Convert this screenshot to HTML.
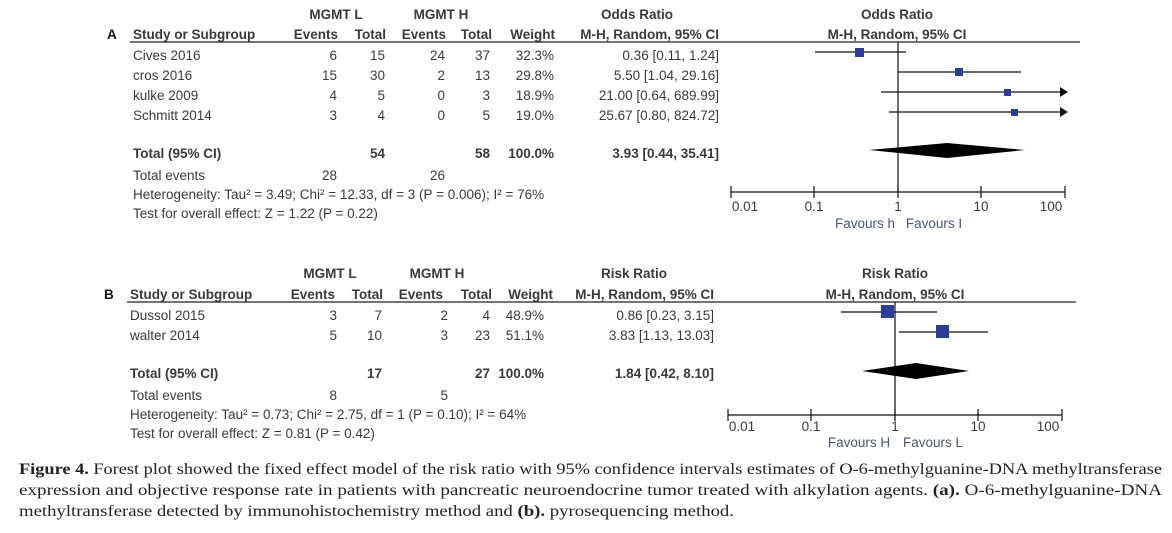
<!DOCTYPE html>
<html><head><meta charset="utf-8"><style>
html,body{margin:0;padding:0;background:#fff;}
svg{display:block;}
.t{font-family:"Liberation Sans",Arial,sans-serif;font-size:13.5px;fill:#3a3a3a;}
.b{font-weight:bold;}
.c{font-family:"Liberation Serif",serif;font-size:15.5px;fill:#222;}
.f{fill:#4a5570;white-space:pre;}
</style></head><body>
<svg width="1172" height="533" viewBox="0 0 1172 533" xmlns="http://www.w3.org/2000/svg">
<!-- PANEL A -->
<g class="t">
<text x="336" y="19" text-anchor="middle" class="b">MGMT L</text>
<text x="441" y="19" text-anchor="middle" class="b">MGMT H</text>
<text x="637" y="19" text-anchor="middle" class="b">Odds Ratio</text>
<text x="897" y="19" text-anchor="middle" class="b">Odds Ratio</text>
<text x="107" y="39" class="b" fill="#111">A</text>
<text x="133" y="39" class="b">Study or Subgroup</text>
<text x="338" y="39" text-anchor="end" class="b">Events</text>
<text x="386" y="39" text-anchor="end" class="b">Total</text>
<text x="446" y="39" text-anchor="end" class="b">Events</text>
<text x="492" y="39" text-anchor="end" class="b">Total</text>
<text x="555" y="39" text-anchor="end" class="b">Weight</text>
<text x="719" y="39" text-anchor="end" class="b">M-H, Random, 95% CI</text>
<text x="897" y="39" text-anchor="middle" class="b">M-H, Random, 95% CI</text>
</g>
<line x1="130" y1="42" x2="1080" y2="42" stroke="#222" stroke-width="1.2"/>
<g class="t">
<text x="133" y="60">Cives 2016</text>
<text x="133" y="80">cros 2016</text>
<text x="133" y="100">kulke 2009</text>
<text x="133" y="120">Schmitt 2014</text>
<g text-anchor="end">
<text x="337" y="60">6</text><text x="385" y="60">15</text><text x="445" y="60">24</text><text x="490" y="60">37</text><text x="554" y="60">32.3%</text><text x="719" y="60">0.36 [0.11, 1.24]</text>
<text x="337" y="80">15</text><text x="385" y="80">30</text><text x="445" y="80">2</text><text x="490" y="80">13</text><text x="554" y="80">29.8%</text><text x="719" y="80">5.50 [1.04, 29.16]</text>
<text x="337" y="100">4</text><text x="385" y="100">5</text><text x="445" y="100">0</text><text x="490" y="100">3</text><text x="554" y="100">18.9%</text><text x="719" y="100">21.00 [0.64, 689.99]</text>
<text x="337" y="120">3</text><text x="385" y="120">4</text><text x="445" y="120">0</text><text x="490" y="120">5</text><text x="554" y="120">19.0%</text><text x="719" y="120">25.67 [0.80, 824.72]</text>
<text x="385" y="158" class="b">54</text><text x="490" y="158" class="b">58</text><text x="554" y="158" class="b">100.0%</text><text x="719" y="158" class="b">3.93 [0.44, 35.41]</text>
<text x="337" y="180">28</text><text x="445" y="180">26</text>
</g>
<text x="133" y="158" class="b">Total (95% CI)</text>
<text x="133" y="180">Total events</text>
<text x="133" y="199">Heterogeneity: Tau² = 3.49; Chi² = 12.33, df = 3 (P = 0.006); I² = 76%</text>
<text x="133" y="218">Test for overall effect: Z = 1.22 (P = 0.22)</text>
</g>
<!-- plot A -->
<g stroke="#111" stroke-width="1.2">
<line x1="898" y1="42" x2="898" y2="192"/>
<line x1="731" y1="192" x2="1065" y2="192"/>
<line x1="731" y1="186" x2="731" y2="198"/><line x1="814" y1="186" x2="814" y2="198"/><line x1="898" y1="186" x2="898" y2="198"/><line x1="981" y1="186" x2="981" y2="198"/><line x1="1065" y1="186" x2="1065" y2="198"/>
<line x1="815" y1="52" x2="906" y2="52"/>
<line x1="898" y1="72" x2="1021" y2="72"/>
<line x1="881" y1="92" x2="1063" y2="92"/>
<line x1="889" y1="112" x2="1063" y2="112"/>
</g>
<polygon points="1060,87 1068,92 1060,97" fill="#111"/>
<polygon points="1060,107 1068,112 1060,117" fill="#111"/>
<rect x="855" y="48" width="9" height="9" fill="#2d3b9a"/>
<rect x="955" y="68" width="8" height="8" fill="#2d3b9a"/>
<rect x="1004" y="89" width="7" height="7" fill="#2d3b9a"/>
<rect x="1011" y="109" width="7" height="7" fill="#2d3b9a"/>
<polygon points="869,150 947,143 1025,150 947,158" fill="#000"/>
<g class="t" text-anchor="middle">
<text x="745" y="211">0.01</text><text x="814" y="211">0.1</text><text x="898" y="211">1</text><text x="981" y="211">10</text><text x="1051" y="211">100</text>
<text x="865" y="228" class="f">Favours h</text><text x="934" y="228" class="f">Favours I</text>
</g>

<!-- PANEL B -->
<g class="t">
<text x="330" y="278" text-anchor="middle" class="b">MGMT L</text>
<text x="437" y="278" text-anchor="middle" class="b">MGMT H</text>
<text x="634" y="278" text-anchor="middle" class="b">Risk Ratio</text>
<text x="895" y="278" text-anchor="middle" class="b">Risk Ratio</text>
<text x="104" y="299" class="b" fill="#111">B</text>
<text x="130" y="299" class="b">Study or Subgroup</text>
<text x="335" y="299" text-anchor="end" class="b">Events</text>
<text x="383" y="299" text-anchor="end" class="b">Total</text>
<text x="443" y="299" text-anchor="end" class="b">Events</text>
<text x="492" y="299" text-anchor="end" class="b">Total</text>
<text x="553" y="299" text-anchor="end" class="b">Weight</text>
<text x="714" y="299" text-anchor="end" class="b">M-H, Random, 95% CI</text>
<text x="895" y="299" text-anchor="middle" class="b">M-H, Random, 95% CI</text>
</g>
<line x1="127" y1="302" x2="1076" y2="302" stroke="#222" stroke-width="1.2"/>
<g class="t">
<text x="130" y="320">Dussol 2015</text>
<text x="130" y="340">walter 2014</text>
<g text-anchor="end">
<text x="337" y="320">3</text><text x="382" y="320">7</text><text x="448" y="320">2</text><text x="490" y="320">4</text><text x="544" y="320">48.9%</text><text x="714" y="320">0.86 [0.23, 3.15]</text>
<text x="337" y="340">5</text><text x="382" y="340">10</text><text x="448" y="340">3</text><text x="490" y="340">23</text><text x="544" y="340">51.1%</text><text x="714" y="340">3.83 [1.13, 13.03]</text>
<text x="382" y="378" class="b">17</text><text x="490" y="378" class="b">27</text><text x="544" y="378" class="b">100.0%</text><text x="714" y="378" class="b">1.84 [0.42, 8.10]</text>
<text x="337" y="400">8</text><text x="448" y="400">5</text>
</g>
<text x="130" y="378" class="b">Total (95% CI)</text>
<text x="130" y="400">Total events</text>
<text x="130" y="419">Heterogeneity: Tau² = 0.73; Chi² = 2.75, df = 1 (P = 0.10); I² = 64%</text>
<text x="130" y="438">Test for overall effect: Z = 0.81 (P = 0.42)</text>
</g>
<g stroke="#111" stroke-width="1.2">
<line x1="895" y1="302" x2="895" y2="415"/>
<line x1="728" y1="415" x2="1062" y2="415"/>
<line x1="728" y1="409" x2="728" y2="421"/><line x1="811" y1="409" x2="811" y2="421"/><line x1="895" y1="409" x2="895" y2="421"/><line x1="978" y1="409" x2="978" y2="421"/><line x1="1062" y1="409" x2="1062" y2="421"/>
<line x1="841" y1="312" x2="937" y2="312"/>
<line x1="899" y1="332" x2="988" y2="332"/>
</g>
<rect x="881" y="305" width="13" height="13" fill="#2d3b9a"/>
<rect x="936" y="325" width="13" height="13" fill="#2d3b9a"/>
<polygon points="862,371 916,363 969,371 916,379" fill="#000"/>
<g class="t" text-anchor="middle">
<text x="742" y="431">0.01</text><text x="811" y="431">0.1</text><text x="895" y="431">1</text><text x="978" y="431">10</text><text x="1048" y="431">100</text>
<text x="859" y="447" class="f">Favours H</text><text x="933" y="447" class="f">Favours L</text>
</g>

<!-- Caption -->
<g class="c">
<text x="19" y="474" textLength="1143" lengthAdjust="spacingAndGlyphs"><tspan font-weight="bold">Figure 4.</tspan> Forest plot showed the fixed effect model of the risk ratio with 95% confidence intervals estimates of O-6-methylguanine-DNA methyltransferase</text>
<text x="19" y="495" textLength="1143" lengthAdjust="spacingAndGlyphs">expression and objective response rate in patients with pancreatic neuroendocrine tumor treated with alkylation agents. <tspan font-weight="bold">(a).</tspan> O-6-methylguanine-DNA</text>
<text x="19" y="516" textLength="715" lengthAdjust="spacingAndGlyphs">methyltransferase detected by immunohistochemistry method and <tspan font-weight="bold">(b).</tspan> pyrosequencing method.</text>
</g>
</svg>
</body></html>
